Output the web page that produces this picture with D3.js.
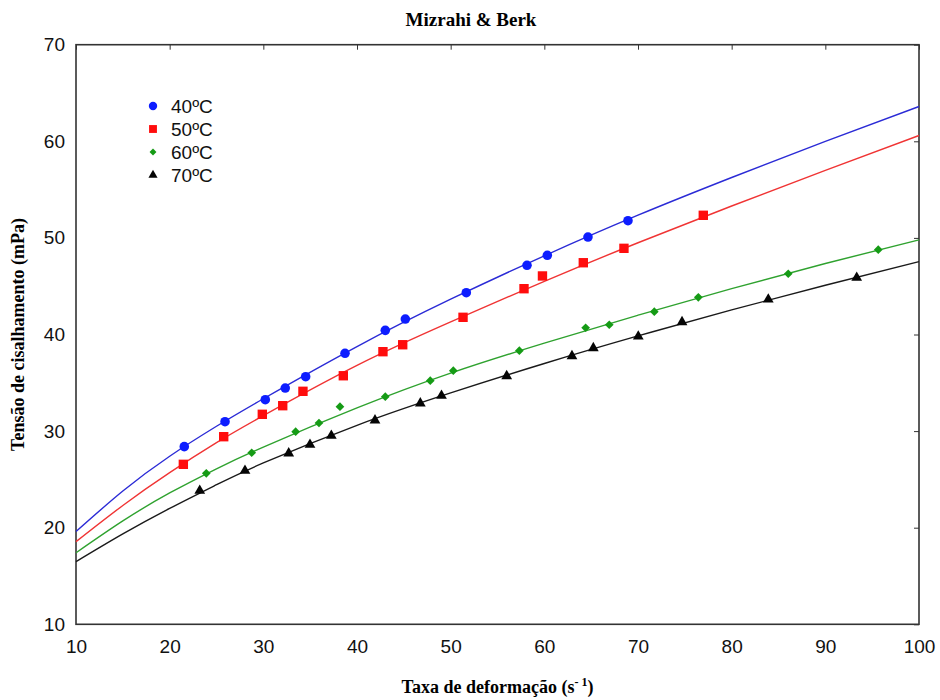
<html>
<head>
    <title>Mizrahi & Berk</title>
    <script src="https://cdn.jsdelivr.net/npm/d3@7/dist/d3.min.js" charset="utf-8"></script>
    <style>
        body {
            margin: 0;
            background: #fff;
            font-family: "Liberation Sans", Arial, sans-serif;
        }
        .title, .axis-title {
            font-family: "Liberation Serif", "Times New Roman", serif;
            font-weight: bold;
        }
        .tick-label {
            font-size: 19px;
            fill: #111;
        }
    </style>
</head>
<body>
    <script>
    var width = 940;
    var height = 700;

    // eixos
    var xTicks = [10, 20, 30, 40, 50, 60, 70, 80, 90, 100];
    var yTicks = [10, 20, 30, 40, 50, 60, 70];
    var labels = ["40ºC", "50ºC", "60ºC", "70ºC"];

    // pontos experimentais
    var x40 = [21.56, 25.91, 30.21, 32.34, 34.52, 38.72, 43.02, 45.16, 51.67, 58.15, 60.32, 64.66, 68.93];
    var y40 = [28.39, 30.97, 33.25, 34.46, 35.63, 38.05, 40.43, 41.60, 44.33, 47.16, 48.20, 50.09, 51.78];

    var x50 = [21.46, 25.77, 29.89, 32.07, 34.23, 38.54, 42.77, 44.88, 51.32, 57.83, 59.80, 64.16, 68.50, 76.97];
    var y50 = [26.56, 29.42, 31.74, 32.63, 34.12, 35.73, 38.22, 38.94, 41.78, 44.74, 46.06, 47.43, 48.92, 52.34];

    var x60 = [23.91, 28.76, 33.45, 35.94, 38.18, 43.02, 47.82, 50.28, 57.33, 64.41, 66.93, 71.74, 76.44, 86.04, 95.65];
    var y60 = [25.63, 27.76, 29.94, 30.84, 32.53, 33.56, 35.22, 36.25, 38.32, 40.70, 41.01, 42.36, 43.85, 46.29, 48.78];

    var x70 = [23.21, 28.04, 32.71, 34.98, 37.26, 41.92, 46.76, 49.02, 55.98, 62.95, 65.23, 70.03, 74.70, 83.91, 93.35];
    var y70 = [23.83, 25.90, 27.70, 28.59, 29.52, 31.12, 32.88, 33.66, 35.70, 37.77, 38.60, 39.81, 41.29, 43.64, 45.88];

    // curvas ajustadas
    var curveX = [10, 15, 20, 25, 30, 40, 50, 60, 70, 80, 90, 100];
    var fit40 = [19.6, 23.8, 27.4, 30.5, 33.35, 38.75, 43.65, 48.15, 52.35, 56.25, 60.0, 63.6];
    var fit50 = [18.55, 22.3, 25.7, 28.8, 31.6, 36.8, 41.3, 45.5, 49.5, 53.3, 57.0, 60.6];
    var fit60 = [17.4, 20.7, 23.6, 26.1, 28.35, 32.4, 36.0, 39.1, 42.0, 44.75, 47.35, 49.8];
    var fit70 = [16.48, 19.35, 22.0, 24.45, 26.7, 30.6, 33.95, 37.0, 39.85, 42.55, 45.1, 47.55];

    var pointX = [x40, x50, x60, x70];
    var pointY = [y40, y50, y60, y70];
    var fits = [fit40, fit50, fit60, fit70];

    var lineColors = ["#2b2bd6", "#f03434", "#2fa22f", "#1a1a1a"];
    var markColors = ["#0d1dff", "#ff0d0d", "#159b15", "#050505"];
    var symbols = [d3.symbolCircle, d3.symbolSquare, d3.symbolSquare, d3.symbolTriangle];
    var sizes = [72, 88, 38, 50];
    var legendSizes = [55, 62, 24, 36];
    var rotations = [0, 0, 45, 0];

    var margin = {top: 44.7, right: 21, bottom: 75.7, left: 76};
    var plotW = width - margin.left - margin.right;
    var plotH = height - margin.top - margin.bottom;

    var svg = d3.select("body")
        .append("svg")
        .attr("width", width)
        .attr("height", height);

    var x = d3.scaleLinear().domain([10, 100]).range([margin.left, margin.left + plotW]);
    var y = d3.scaleLinear().domain([10, 70]).range([margin.top + plotH, margin.top]);

    // titulo
    svg.append("text")
        .attr("class", "title")
        .attr("x", 471)
        .attr("y", 26)
        .attr("text-anchor", "middle")
        .attr("font-size", "19px")
        .text("Mizrahi & Berk");

    // eixo x em baixo (so rotulos)
    var xAxis = svg.append("g")
        .attr("transform", "translate(0," + (margin.top + plotH) + ")")
        .call(d3.axisBottom(x).tickValues(xTicks).tickSize(0).tickPadding(15));
    xAxis.select(".domain").remove();
    xAxis.selectAll("text").attr("class", "tick-label").attr("font-size", null).attr("font-family", null);

    // eixo y a esquerda
    var yAxis = svg.append("g")
        .attr("transform", "translate(" + margin.left + ",0)")
        .call(d3.axisLeft(y).tickValues(yTicks).tickSize(0).tickPadding(11));
    yAxis.select(".domain").remove();
    yAxis.selectAll("text").attr("class", "tick-label").attr("font-size", null).attr("font-family", null);

    // ticks para dentro, em cima e a direita
    var topAxis = svg.append("g")
        .attr("transform", "translate(0," + margin.top + ")")
        .call(d3.axisBottom(x).tickValues(xTicks).tickSize(5).tickFormat(""));
    topAxis.select(".domain").remove();
    topAxis.selectAll("line").attr("stroke", "#333");

    var rightAxis = svg.append("g")
        .attr("transform", "translate(" + (margin.left + plotW) + ",0)")
        .call(d3.axisLeft(y).tickValues(yTicks).tickSize(5).tickFormat(""));
    rightAxis.select(".domain").remove();
    rightAxis.selectAll("line").attr("stroke", "#333");

    // moldura
    svg.append("rect")
        .attr("x", margin.left)
        .attr("y", margin.top)
        .attr("width", plotW)
        .attr("height", plotH)
        .attr("fill", "none")
        .attr("stroke", "#333")
        .attr("stroke-width", 1.6);

    // curvas
    var line = d3.line()
        .x(function(d) { return x(d[0]); })
        .y(function(d) { return y(d[1]); })
        .curve(d3.curveNatural);

    fits.forEach(function(f, i) {
        svg.append("path")
            .datum(curveX.map(function(v, j) { return [v, f[j]]; }))
            .attr("fill", "none")
            .attr("stroke", lineColors[i])
            .attr("stroke-width", 1.4)
            .attr("d", line);
    });

    // pontos
    pointX.forEach(function(xs, i) {
        svg.append("g").selectAll("path")
            .data(xs.map(function(v, j) { return [v, pointY[i][j]]; }))
            .enter()
            .append("path")
            .attr("d", d3.symbol().type(symbols[i]).size(sizes[i]))
            .attr("fill", markColors[i])
            .attr("transform", function(d) {
                return "translate(" + x(d[0]) + "," + y(d[1]) + ") rotate(" + rotations[i] + ")";
            });
    });

    // legenda
    var legend = svg.append("g").attr("transform", "translate(153,106)");
    labels.forEach(function(lab, i) {
        var row = legend.append("g").attr("transform", "translate(0," + (i * 23) + ")");
        row.append("path")
            .attr("d", d3.symbol().type(symbols[i]).size(legendSizes[i]))
            .attr("fill", markColors[i])
            .attr("transform", "rotate(" + rotations[i] + ")");
        row.append("text")
            .attr("x", 18)
            .attr("y", 7)
            .attr("font-size", "19px")
            .attr("fill", "#111")
            .text(lab);
    });

    // titulos dos eixos
    var xt = svg.append("text")
        .attr("class", "axis-title")
        .attr("x", margin.left + plotW / 2)
        .attr("y", 693)
        .attr("text-anchor", "middle")
        .attr("font-size", "18px");
    xt.append("tspan").text("Taxa de deformação (s");
    xt.append("tspan").attr("dy", -7).attr("font-size", "12px").text("- 1");
    xt.append("tspan").attr("dy", 7).text(")");

    svg.append("text")
        .attr("class", "axis-title")
        .attr("transform", "translate(24," + (margin.top + plotH / 2) + ") rotate(-90)")
        .attr("text-anchor", "middle")
        .attr("font-size", "18px")
        .text("Tensão de cisalhamento (mPa)");
    </script>
</body>
</html>
